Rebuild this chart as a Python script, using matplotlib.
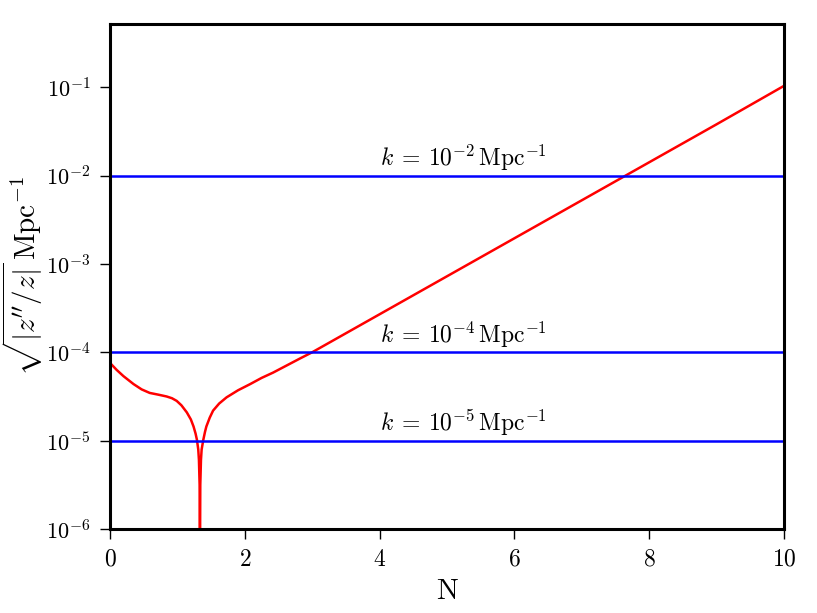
import numpy as np
import matplotlib
matplotlib.use("Agg")
import matplotlib.pyplot as plt

plt.rcParams['mathtext.fontset'] = 'cm'
plt.rcParams['font.family'] = 'serif'
plt.rcParams['font.serif'] = ['cmr10', 'DejaVu Serif']
plt.rcParams['axes.formatter.use_mathtext'] = True

### data ###
# e-folds N and log10 of sqrt|z''/z| [Mpc^-1]
N_pts = [0.0, 0.10, 0.20, 0.35, 0.47, 0.59, 0.72, 0.84, 0.92, 0.99, 1.06, 1.14,
         1.20, 1.24, 1.27, 1.29, 1.31, 1.32, 1.33, 1.335, 1.34, 1.35, 1.36,
         1.385, 1.41, 1.43, 1.48, 1.53, 1.62, 1.73, 1.90, 2.08, 2.25, 2.42,
         2.62, 2.82, 3.0, 4.0, 5.0, 6.0, 7.0, 8.0, 9.0, 10.0]
logH = [-4.12, -4.20, -4.27, -4.36, -4.42, -4.46, -4.48, -4.50, -4.52, -4.55,
        -4.60, -4.68, -4.76, -4.84, -4.92, -4.99, -5.10, -5.22, -5.50, -6.5,
        -5.50, -5.22, -5.10, -4.99, -4.90, -4.84, -4.74, -4.66, -4.58, -4.51,
        -4.43, -4.36, -4.29, -4.23, -4.15, -4.07, -4.0, -3.57, -3.14, -2.71,
        -2.28, -1.85, -1.42, -0.985]

k_modes = [1e-2, 1e-4, 1e-5]
k_labels = [r'$k\:=\:10^{-2}\,\mathrm{Mpc}^{-1}$',
            r'$k\:=\:10^{-4}\,\mathrm{Mpc}^{-1}$',
            r'$k\:=\:10^{-5}\,\mathrm{Mpc}^{-1}$']

fig = plt.figure(figsize=(8.17, 6.13), dpi=100)
ax = fig.add_axes([0.1346, 0.137, 0.825, 0.824])

ax.plot(N_pts, 10**np.array(logH), color='red', lw=1.8)
for k, lab in zip(k_modes, k_labels):
    ax.axhline(k, color='blue', lw=1.8)
    ax.text(4.0, k * 1.06, lab, fontsize=17, ha='left', va='bottom')

ax.set_yscale('log')
ax.set_xlim(0, 10)
ax.set_ylim(1e-6, 0.52)
ax.set_xticks([0, 2, 4, 6, 8, 10])
ax.set_yticks([1e-6, 1e-5, 1e-4, 1e-3, 1e-2, 1e-1])
ax.minorticks_off()

for s in ax.spines.values():
    s.set_linewidth(2.2)
ax.tick_params(direction='out', length=7, width=1, pad=7,
               top=False, right=False)
ax.tick_params(axis='x', labelsize=17)
ax.tick_params(axis='y', labelsize=16)

ax.set_xlabel('N', fontsize=21, labelpad=6)
ax.set_ylabel(r'$\sqrt{|z^{\prime\prime}/z|}\,\mathrm{Mpc}^{-1}$', fontsize=21)
ax.yaxis.set_label_coords(-0.097, 0.5)

fig.savefig('out.png', dpi=100)
